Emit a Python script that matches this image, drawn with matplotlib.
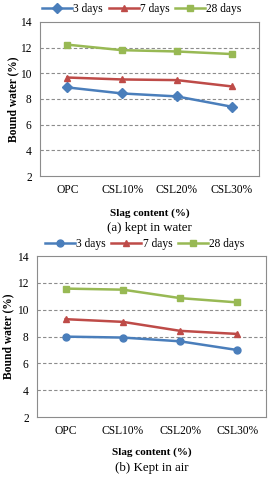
import matplotlib.pyplot as plt

plt.rcParams['font.family'] = ['Liberation Serif', 'DejaVu Serif']

categories = ["OPC", "CSL10%", "CSL20%", "CSL30%"]
series_names = ["3 days", "7 days", "28 days"]

# (a) kept in water
water_3d = [8.9, 8.43, 8.2, 7.4]
water_7d = [9.67, 9.52, 9.47, 8.98]
water_28d = [12.23, 11.8, 11.7, 11.5]

# (b) kept in air
air_3d = [8.0, 7.93, 7.65, 7.0]
air_7d = [9.3, 9.1, 8.43, 8.2]
air_28d = [11.58, 11.5, 10.87, 10.55]

colors = ["#4a7ebb", "#be4b48", "#98b954"]
yticks = [2, 4, 6, 8, 10, 12, 14]

fig = plt.figure(figsize=(2.75, 4.8), dpi=100)


def draw_panel(ax, data, markers, caption, legend_pos, ylabel_x, xlabel_y):
    x = range(len(categories))
    for vals, name, c, m in zip(data, series_names, colors, markers):
        ax.plot(x, vals, color=c, marker=m, markersize=5, linewidth=1.8,
                label=name)
    ax.set_xlim(-0.5, len(categories) - 0.5)
    ax.set_ylim(2, 14)
    ax.set_yticks(yticks)
    ax.set_xticks(list(x))
    ax.set_xticklabels(categories, fontsize=8.3)
    ax.tick_params(axis='y', labelsize=8.3, length=0, pad=6)
    ax.tick_params(axis='x', length=0, pad=6)
    for v in yticks[1:-1]:
        ax.axhline(v, color="#8c8c8c", linestyle=(0, (3, 2)), linewidth=0.8, zorder=0)
    for s in ax.spines.values():
        s.set_color("#8c8c8c")
        s.set_linewidth(0.8)
    ax.set_ylabel("Bound water (%)", fontsize=8.3, fontweight='bold', va='center')
    ax.yaxis.set_label_coords(ylabel_x, 0.5)
    ax.set_xlabel("Slag content (%)", fontsize=8, fontweight='bold', va='center')
    ax.xaxis.set_label_coords(0.5, xlabel_y)
    ax.text(0.5, caption[1], caption[0], transform=ax.transAxes,
            ha='center', va='center', fontsize=9.3)
    ax.legend(loc='center', bbox_to_anchor=legend_pos, ncol=3, frameon=False,
              fontsize=8.3, handlelength=2.6, columnspacing=0.5, handletextpad=0.1,
              borderaxespad=0)


ax1 = fig.add_axes([0.1455, 0.6333, 0.796, 0.321])
draw_panel(ax1, [water_3d, water_7d, water_28d], ["D", "^", "s"],
           ("(a) kept in water", -0.338), (0.466, 1.085), -0.12, -0.24)

ax2 = fig.add_axes([0.1345, 0.131, 0.833, 0.3354])
draw_panel(ax2, [air_3d, air_7d, air_28d], ["o", "^", "s"],
           ("(b) Kept in air", -0.317), (0.47, 1.074), -0.125, -0.217)

fig.savefig("out.png", dpi=100)
